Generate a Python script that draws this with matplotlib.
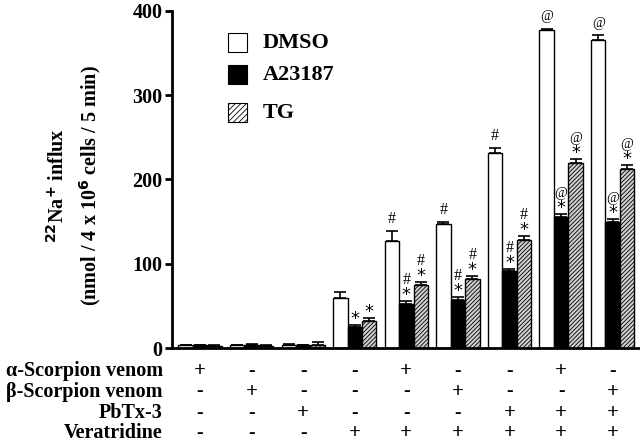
import numpy as np
import matplotlib.pyplot as plt
from matplotlib.patches import Rectangle

plt.rcParams['font.family'] = ['Liberation Serif', 'DejaVu Serif']
plt.rcParams['hatch.linewidth'] = 0.6

# data (nmol / 4x10^6 cells / 5 min)
dmso = [3, 3, 4, 59, 127, 147, 232, 377, 366]
dmso_err = [1, 1, 1, 7, 12, 3, 5, 2, 5]
a23187 = [3, 4, 3, 25, 52, 57, 91, 155, 149]
a23187_err = [1, 1, 1, 2, 4, 3, 3, 4, 4]
tg = [2, 2, 4, 32, 75, 82, 128, 219, 212]
tg_err = [1, 1, 3, 4, 3, 3, 5, 5, 5]

# significance marks, bottom to top, per bar
dmso_marks = [[], [], [], [], ['#'], ['#'], ['#'], ['@'], ['@']]
a23187_marks = [[], [], [], ['*'], ['*', '#'], ['*', '#'], ['*', '#'], ['*', '@'], ['*', '@']]
tg_marks = [[], [], [], ['*'], ['*', '#'], ['*', '#'], ['*', '#'], ['*', '@'], ['*', '@']]

row_names = ['α-Scorpion venom', 'β-Scorpion venom', 'PbTx-3', 'Veratridine']
alpha_sv = ['+', '-', '-', '-', '+', '-', '-', '+', '-']
beta_sv = ['-', '+', '-', '-', '-', '+', '-', '-', '+']
pbtx = ['-', '-', '+', '-', '-', '-', '+', '+', '+']
veratridine = ['-', '-', '-', '+', '+', '+', '+', '+', '+']

fig = plt.figure(figsize=(6.4, 4.45), dpi=100)
ax = fig.add_axes([172 / 640, 1 - 348 / 445, 1 - 172 / 640, 337 / 445])
px = 400 / 337  # data units per pixel

x = np.arange(len(dmso))
w = 0.28
series = [
    (dmso, dmso_err, dmso_marks, 'white', None),
    (a23187, a23187_err, a23187_marks, 'black', None),
    (tg, tg_err, tg_marks, '#d0d0d0', '////////'),
]
for k, (vals, errs, marks, fc, h) in enumerate(series):
    pos = x + (k - 1) * w
    ax.bar(pos, vals, w, color=fc, edgecolor='black', linewidth=1,
           hatch=h, zorder=2)
    ax.errorbar(pos, vals, yerr=[np.zeros(len(vals)), errs], fmt='none',
                ecolor='black', elinewidth=1.2, capsize=4.5, capthick=1.2, zorder=3)
    for p, v, e, m in zip(pos, vals, errs, marks):
        y = v + e + (8 if m and m[0] == '*' else 12) * px
        for s in m:
            if s == '*':
                ax.text(p, y - 2 * px, s, ha='center', va='center', fontsize=13,
                        family=['DejaVu Sans'], color='black')
            else:
                ax.text(p, y, s, ha='center', va='center',
                        fontsize=11.5 if s == '#' else 10)
            y += 13 * px

ax.set_xlim(-0.543, 8.53)
ax.set_ylim(0, 400)
ax.set_yticks([0, 100, 200, 300, 400])
ax.tick_params(axis='y', length=5, width=2, labelsize=14.5, pad=2)
for lab in ax.get_yticklabels():
    lab.set_fontweight('bold')
ax.set_xticks([])
ax.spines['top'].set_visible(False)
ax.spines['right'].set_visible(False)
ax.spines['left'].set_linewidth(2)
ax.spines['bottom'].set_linewidth(2)

fig.text(75 / 640, 1 - 186 / 445,
         '$\\mathbf{^{22}}$Na$\\mathbf{^{+}}$ influx\n(nmol / 4 x 10$\\mathbf{^{6}}$ cells / 5 min)',
         rotation=90, ha='center', va='center', fontsize=14.5, fontweight='bold',
         linespacing=1.45, multialignment='center')

# treatment table below the axis
rows = [alpha_sv, beta_sv, pbtx, veratridine]
row_y = [371, 392, 413, 433]
for name, signs, py in zip(row_names, rows, row_y):
    fy = 1 - py / 445
    fig.text(163 / 640, fy, name, ha='right', va='center', fontsize=14.5,
             fontweight='bold')
    for xi, s in zip(x, signs):
        xd = ax.transData.transform((xi, 0))[0] / 640
        fig.text(xd, fy, s, ha='center', va='center',
                 fontsize=15 if s == '+' else 14, fontweight='bold')

# legend drawn by hand
leg = [('DMSO', 'white', None, 43), ('A23187', 'black', None, 75),
       ('TG', 'white', '//////', 113)]
for name, fc, h, py in leg:
    r = Rectangle((228 / 640, 1 - (py + 9) / 445), 19 / 640, 19 / 445,
                  transform=fig.transFigure, facecolor=fc, edgecolor='black',
                  linewidth=0.8, hatch=h)
    fig.patches.append(r)
    fig.text(263 / 640, 1 - py / 445, name, ha='left', va='center',
             fontsize=16, fontweight='bold')

fig.savefig('out.png', dpi=100)
